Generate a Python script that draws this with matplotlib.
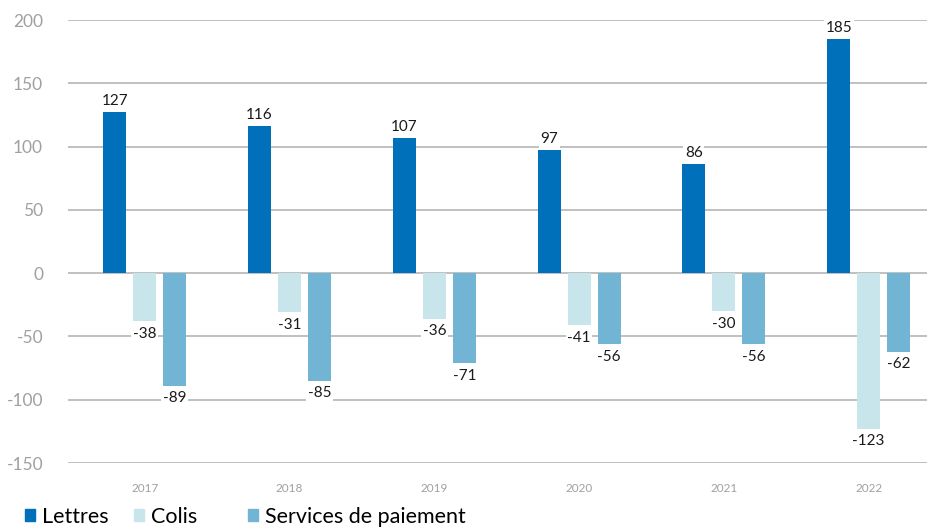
import numpy as np
import matplotlib
matplotlib.use("Agg")
from matplotlib import pyplot as plt
from matplotlib.patches import Patch

years = ["2017", "2018", "2019", "2020", "2021", "2022"]
lettres = [127, 116, 107, 97, 86, 185]
colis = [-38, -31, -36, -41, -30, -123]
paiement = [-89, -85, -71, -56, -56, -62]

series = [("Lettres", lettres, "#0070ba"),
          ("Colis", colis, "#c9e5ec"),
          ("Services de paiement", paiement, "#72b4d4")]

plt.rcParams['font.family'] = ['Lato', 'DejaVu Sans']

fig = plt.figure(figsize=(9.28, 5.28), dpi=100)
ax = fig.add_axes([0.0733, 0.123, 0.9267, 0.839])

x = np.arange(len(years))
width = 0.159
step = 0.207

for i, (name, vals, color) in enumerate(series):
    pos = x + (i - 1) * step
    ax.bar(pos, vals, width=width, color=color, zorder=2)
    for px, v in zip(pos, vals):
        off = 3 if v >= 0 else -4
        ax.annotate(str(v), (px, v), xytext=(0, off),
                    textcoords='offset points', ha='center',
                    va='bottom' if v >= 0 else 'top', fontsize=11,
                    color='#1a1a1a', zorder=3,
                    bbox=dict(boxstyle='square,pad=0.1', fc='white', ec='none'))

ticks = list(range(-150, 201, 50))
ax.set_xlim(-0.53, 5.41)
ax.set_ylim(-150, 200)
ax.set_yticks(ticks)
ax.set_yticklabels([str(t) for t in ticks])
ax.set_xticks(x)
ax.set_xticklabels(years)

ax.grid(axis='y', color='#bbbbbb', linewidth=1.3, zorder=0)
ax.set_axisbelow(True)
for s in ax.spines.values():
    s.set_visible(False)
ax.tick_params(axis='y', length=0, pad=18, labelsize=12.5, labelcolor='#a0a0a0')
ax.tick_params(axis='x', length=0, pad=14, labelsize=8.5, labelcolor='#a0a0a0')

# one legend entry per fixed column along the bottom edge
for (name, _, color), lx in zip(series, [25, 134, 248]):
    fig.legend(handles=[Patch(color=color, label=name)], loc='center left',
               bbox_to_anchor=(lx / 928, 0.021), frameon=False,
               fontsize=15.5, borderpad=0, borderaxespad=0,
               handlelength=0.47, handleheight=0.47, handletextpad=0.3)

fig.savefig("out.png", dpi=100)
